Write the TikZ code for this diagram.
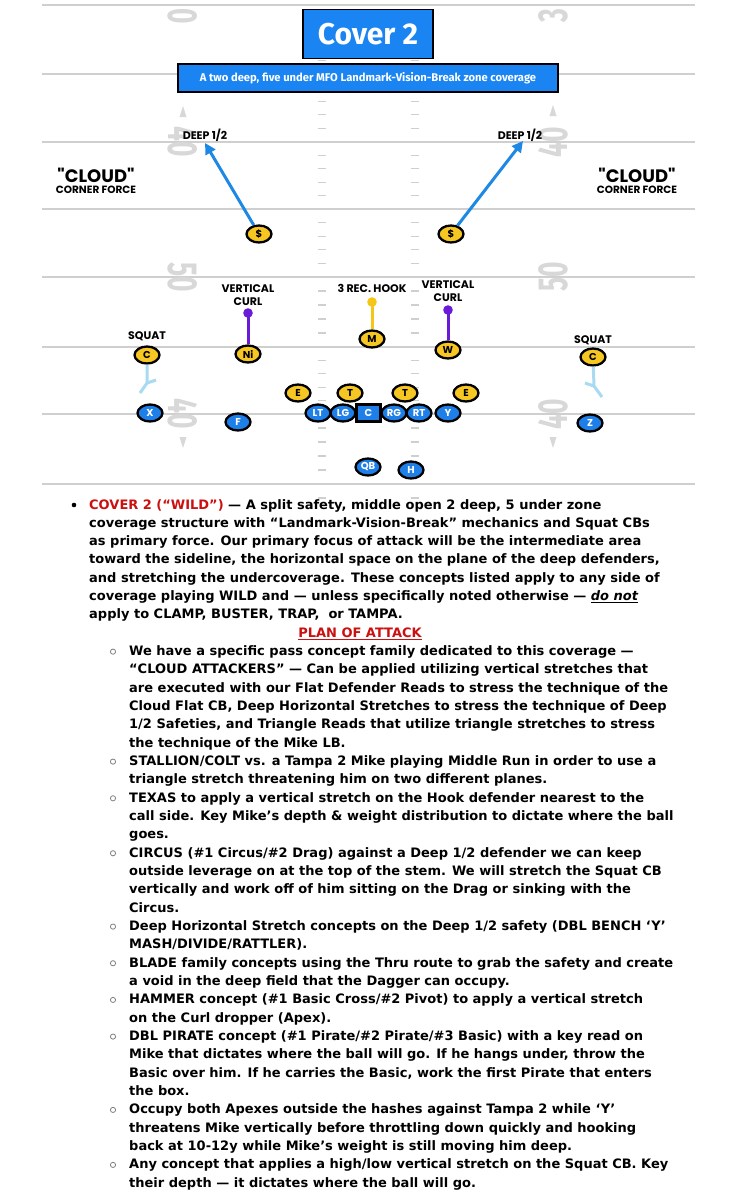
\documentclass[tikz,border=0pt]{standalone}
\usepackage{fontspec}
\usetikzlibrary{shapes.geometric,arrows.meta}
\setmainfont{DejaVu Sans}
\newfontfamily\bodyfont{DejaVu Sans}
\newfontfamily\labfont{Poppins}
\newfontfamily\titfont{Fira Sans}
\newfontfamily\numfont{Fira Sans}[FakeStretch=0.63]
\definecolor{fieldgray}{HTML}{CFCFCF}
\definecolor{numgray}{HTML}{D8D8D8}
\definecolor{offblue}{HTML}{1F7FE8}
\definecolor{defyel}{HTML}{F6C623}
\definecolor{routeblue}{HTML}{1E88E5}
\definecolor{sqblue}{HTML}{A8DAF2}
\definecolor{curlpurp}{HTML}{6A1BD8}
\definecolor{hookyel}{HTML}{F5C518}
\definecolor{titblue}{HTML}{1A84F2}
\definecolor{txtred}{HTML}{CC1010}
\newcommand\txtline[3]{\node[body] (txt#1) at (#2,{509+18.33*#1}) {#3};}
\begin{document}
\begin{tikzpicture}[x=1pt,y=-1pt,
  yard/.style={draw=fieldgray,line width=1.3pt},
  hash/.style={draw=fieldgray,line width=1.2pt},
  num/.style={text=numgray,inner sep=0pt,font=\numfont\bfseries\fontsize{42}{42}\selectfont},
  def/.style={ellipse,draw=black,line width=2.3pt,fill=defyel,minimum width=25pt,minimum height=17pt,inner sep=0pt,font=\labfont\bfseries\fontsize{10}{10}\selectfont},
  off/.style={def,fill=offblue,text=white},
  lbl/.style={inner sep=0pt,align=center,font=\labfont\bfseries\fontsize{11}{13}\selectfont},
  route/.style={draw=routeblue,line width=3pt,-{Triangle[length=11pt,width=11pt]}},
  squat/.style={draw=sqblue,line width=3pt},
  curl/.style={draw=curlpurp,line width=3pt},
  hook/.style={draw=hookyel,line width=3pt},
  body/.style={anchor=base west,inner sep=0pt,font=\bodyfont\bfseries\fontsize{13}{14}\selectfont},
  titlebox/.style={draw=black,line width=1.6pt,fill=titblue,text=white,inner sep=0pt}
]
\useasboundingbox (0,0) rectangle (736,1200);
\fill[white] (0,0) rectangle (736,1200);
\begin{scope}
\clip (0,0) rectangle (736,1200);
% yard lines
\foreach \yy in {5,74,142,209,277,347,414,484}
  \draw[yard] (42,\yy) -- (695,\yy);
% hash marks
\foreach \a/\b in {5/74,74/142,142/209,209/277,277/347,347/414,414/484,484/554}
  \foreach \f in {1,2,3,4}{
    \pgfmathsetmacro\hy{\a+(\b-\a)*\f/5}
    \ifdim\hy pt<500pt
      \draw[hash] (318,\hy) -- (326,\hy);
      \draw[hash] (411,\hy) -- (419,\hy);
    \fi
  }
% field numbers
\node[num,rotate=-90] (nL30) at (183,16) {0};
\node[num,rotate=-90] (nL40a) at (183,142) {40};
\node[num,rotate=-90] (nL50) at (183,277) {50};
\node[num,rotate=-90] (nL40b) at (183,414) {40};
\node[num,rotate=90] (nR30) at (553,16) {3};
\node[num,rotate=90] (nR40a) at (553,142) {40};
\node[num,rotate=90] (nR50) at (553,277) {50};
\node[num,rotate=90] (nR40b) at (553,414) {40};
\fill[numgray] (183,106) -- (179.5,117) -- (186.5,117) -- cycle;
\fill[numgray] (553,105) -- (549.5,116) -- (556.5,116) -- cycle;
\fill[numgray] (183,448) -- (179.5,437) -- (186.5,437) -- cycle;
\fill[numgray] (553,448) -- (549.5,437) -- (556.5,437) -- cycle;
\end{scope}
% titles
\node[titlebox,minimum width=130pt,minimum height=49pt,font=\titfont\bfseries\fontsize{30}{30}\selectfont] (title) at (368,34) {Cover 2};
\node[titlebox,minimum width=380pt,minimum height=28pt,font=\titfont\bfseries\fontsize{11.2}{11}\selectfont] (sub) at (368,78) {A two deep, five under MFO Landmark-Vision-Break zone coverage};
% cloud labels
\node[inner sep=0pt,font=\labfont\bfseries\fontsize{18}{18}\selectfont] (cloudL) at (96,175) {"CLOUD"};
\node[inner sep=0pt,font=\labfont\bfseries\fontsize{10.5}{10.5}\selectfont] (cfL) at (96,190) {CORNER FORCE};
\node[inner sep=0pt,font=\labfont\bfseries\fontsize{18}{18}\selectfont] (cloudR) at (637,175) {"CLOUD"};
\node[inner sep=0pt,font=\labfont\bfseries\fontsize{10.5}{10.5}\selectfont] (cfR) at (637,190) {CORNER FORCE};
% deep labels
\node[lbl] (deepL) at (205,135) {DEEP 1/2};
\node[lbl] (deepR) at (520,135) {DEEP 1/2};
\coordinate (tipL) at (205,143);
\coordinate (tipR) at (523,141);
% safeties
\node[def] (sL) at (259,234) {\$};
\node[def] (sR) at (451,234) {\$};
\draw[route] (sL) -- (tipL);
\draw[route] (sR) -- (tipR);
% underneath labels
\node[lbl] (vcL) at (248,295.5) {VERTICAL\\CURL};
\node[lbl] (hookl) at (372,288) {3 REC. HOOK};
\node[lbl] (vcR) at (448,291.5) {VERTICAL\\CURL};
\node[lbl] (sqL) at (147,336) {SQUAT};
\node[lbl] (sqR) at (593,340) {SQUAT};
% zone drops
\coordinate (dotL) at (248,313);
\coordinate (dotM) at (372,302);
\coordinate (dotR) at (448,310);
\node[def] (ni) at (248,354) {Ni};
\node[def] (mike) at (372,339) {M};
\node[def] (will) at (448,350) {W};
\node[def] (cL) at (147,355) {C};
\node[def] (cR) at (593,357) {C};
\draw[curl] (ni) -- (dotL);
\fill[curlpurp] (dotL) circle (4.8pt);
\draw[hook] (mike) -- (dotM);
\fill[hookyel] (dotM) circle (4.8pt);
\draw[curl] (will) -- (dotR);
\fill[curlpurp] (dotR) circle (4.8pt);
\coordinate (sqLa) at (147,383);
\coordinate (sqLb) at (140,393);
\coordinate (sqLc) at (156,380);
\coordinate (sqRa) at (594,386);
\coordinate (sqRb) at (602,397);
\coordinate (sqRc) at (585,383);
\draw[squat] (cL) -- (sqLa) -- (sqLb);
\draw[squat] (sqLa) -- (sqLc);
\draw[squat] (cR) -- (sqRa) -- (sqRb);
\draw[squat] (sqRa) -- (sqRc);
% D-line
\node[def] (eL) at (298,393) {E};
\node[def] (tL) at (350,393) {T};
\node[def] (tR) at (405,393) {T};
\node[def] (eR) at (466,393) {E};
% offense
\node[off] (x) at (150,413) {X};
\node[off] (f) at (238,422) {F};
\node[off] (lt) at (318,413) {LT};
\node[off] (lg) at (343,413) {LG};
\node[off] (rg) at (394,413) {RG};
\node[off] (rt) at (419,413) {RT};
\node[draw=black,line width=2.3pt,fill=offblue,text=white,minimum width=24pt,minimum height=17pt,inner sep=0pt,font=\labfont\bfseries\fontsize{10}{10}\selectfont] (ctr) at (368.5,413) {C};
\node[off] (y) at (448,413) {Y};
\node[off] (z) at (590,423) {Z};
\node[off] (qb) at (368,467) {QB};
\node[off] (h) at (411,470) {H};
% text
\fill[black] (74,505) circle (2.3pt);
\foreach \k in {8,14,16,19,23,25,27,29,33,36}
  \draw[gray,line width=0.8pt] (113,{505+18.33*\k}) circle (2.6pt);
\txtline{0}{89}{\textcolor{txtred}{COVER 2 (“WILD”)} — A split safety, middle open 2 deep, 5 under zone}
\txtline{1}{89}{coverage structure with “Landmark-Vision-Break” mechanics and Squat CBs}
\txtline{2}{89}{as primary force. Our primary focus of attack will be the intermediate area}
\txtline{3}{89}{toward the sideline, the horizontal space on the plane of the deep defenders,}
\txtline{4}{89}{and stretching the undercoverage. These concepts listed apply to any side of}
\txtline{5}{89}{coverage playing WILD and — unless specifically noted otherwise — \underline{\textit{do not}}}
\txtline{6}{89}{apply to CLAMP, BUSTER, TRAP,\ \ or TAMPA.}
\node[body,anchor=base] (txt7) at (360,{509+18.33*7}) {\color{txtred}\underline{PLAN OF ATTACK}};
\txtline{8}{129}{We have a specific pass concept family dedicated to this coverage —}
\txtline{9}{129}{“CLOUD ATTACKERS” — Can be applied utilizing vertical stretches that}
\txtline{10}{129}{are executed with our Flat Defender Reads to stress the technique of the}
\txtline{11}{129}{Cloud Flat CB, Deep Horizontal Stretches to stress the technique of Deep}
\txtline{12}{129}{1/2 Safeties, and Triangle Reads that utilize triangle stretches to stress}
\txtline{13}{129}{the technique of the Mike LB.}
\txtline{14}{129}{STALLION/COLT vs. a Tampa 2 Mike playing Middle Run in order to use a}
\txtline{15}{129}{triangle stretch threatening him on two different planes.}
\txtline{16}{129}{TEXAS to apply a vertical stretch on the Hook defender nearest to the}
\txtline{17}{129}{call side. Key Mike’s depth \& weight distribution to dictate where the ball}
\txtline{18}{129}{goes.}
\txtline{19}{129}{CIRCUS (\#1 Circus/\#2 Drag) against a Deep 1/2 defender we can keep}
\txtline{20}{129}{outside leverage on at the top of the stem. We will stretch the Squat CB}
\txtline{21}{129}{vertically and work off of him sitting on the Drag or sinking with the}
\txtline{22}{129}{Circus.}
\txtline{23}{129}{Deep Horizontal Stretch concepts on the Deep 1/2 safety (DBL BENCH ‘Y’}
\txtline{24}{129}{MASH/DIVIDE/RATTLER).}
\txtline{25}{129}{BLADE family concepts using the Thru route to grab the safety and create}
\txtline{26}{129}{a void in the deep field that the Dagger can occupy.}
\txtline{27}{129}{HAMMER concept (\#1 Basic Cross/\#2 Pivot) to apply a vertical stretch}
\txtline{28}{129}{on the Curl dropper (Apex).}
\txtline{29}{129}{DBL PIRATE concept (\#1 Pirate/\#2 Pirate/\#3 Basic) with a key read on}
\txtline{30}{129}{Mike that dictates where the ball will go. If he hangs under, throw the}
\txtline{31}{129}{Basic over him. If he carries the Basic, work the first Pirate that enters}
\txtline{32}{129}{the box.}
\txtline{33}{129}{Occupy both Apexes outside the hashes against Tampa 2 while ‘Y’}
\txtline{34}{129}{threatens Mike vertically before throttling down quickly and hooking}
\txtline{35}{129}{back at 10-12y while Mike’s weight is still moving him deep.}
\txtline{36}{129}{Any concept that applies a high/low vertical stretch on the Squat CB. Key}
\txtline{37}{129}{their depth — it dictates where the ball will go.}
\end{tikzpicture}
\end{document}
